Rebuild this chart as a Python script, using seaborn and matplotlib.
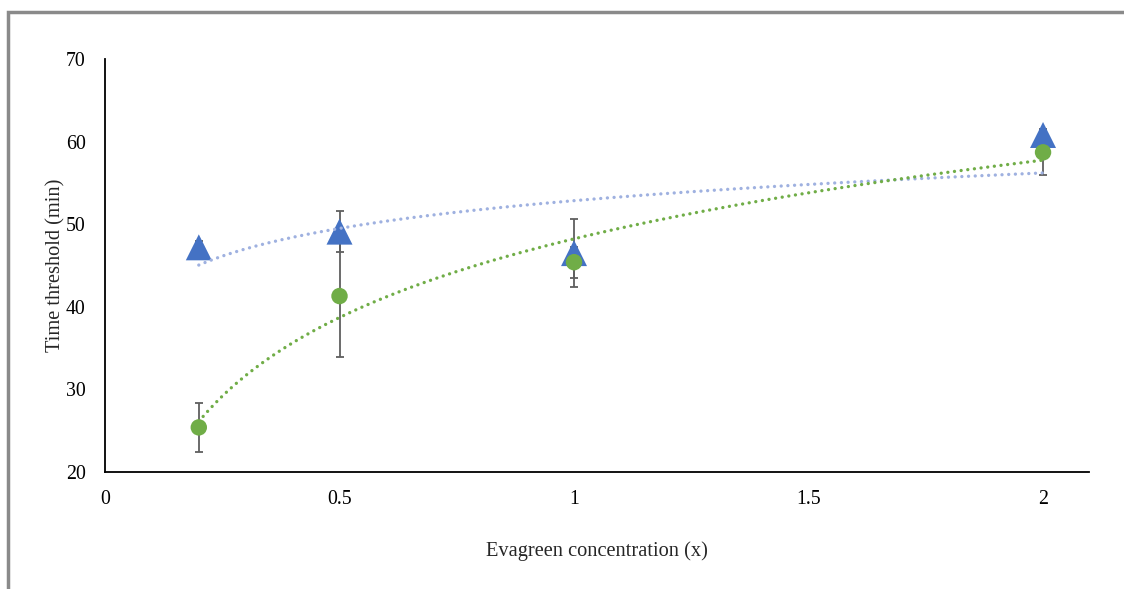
import numpy as np
import pandas as pd
import matplotlib
matplotlib.use("Agg")
import matplotlib.pyplot as plt
import matplotlib.patches as mpatches
import seaborn as sns

# Data
conc = [0.2, 0.5, 1.0, 2.0]
tri_vals = [47.2, 49.1, 46.5, 60.8]
tri_err = [0.8, 2.5, 4.1, 0.7]
circ_vals = [25.4, 41.3, 45.4, 58.7]
circ_err = [3.0, 7.4, 1.9, 2.7]
xticks = [0, 0.5, 1, 1.5, 2]
xtick_labels = ["0", "0.5", "1", "1.5", "2"]
yticks = [20, 30, 40, 50, 60, 70]

sns.set_style("white")
plt.rcParams['font.family'] = ['Liberation Serif', 'DejaVu Serif']

fig = plt.figure(figsize=(11.24, 5.89), dpi=100)
ax = fig.add_axes([105/1124, 1-472/589, (1089-105)/1124, (472-59)/589])

df_tri = pd.DataFrame({"x": conc, "y": tri_vals})
df_circ = pd.DataFrame({"x": conc, "y": circ_vals})

# error bars
ax.errorbar(conc, tri_vals, yerr=tri_err, fmt='none', ecolor='#5f5f5f',
            elinewidth=1.3, capsize=3.2, capthick=1.3, zorder=1)
ax.errorbar(conc, circ_vals, yerr=circ_err, fmt='none', ecolor='#5f5f5f',
            elinewidth=1.3, capsize=3.2, capthick=1.3, zorder=1)

# markers
sns.scatterplot(data=df_tri, x="x", y="y", marker='^', s=350, color='#4472C4',
                edgecolor='none', ax=ax, zorder=3)
sns.scatterplot(data=df_circ, x="x", y="y", marker='o', s=140, color='#70AD47',
                edgecolor='none', ax=ax, zorder=4)

# logarithmic trendlines (fitted to the series)
xs = np.linspace(min(conc), max(conc), 300)
for vals, col in [(tri_vals, '#9FB1E0'), (circ_vals, '#70AD47')]:
    a, b = np.polyfit(np.log(conc), vals, 1)
    tl = pd.DataFrame({"x": xs, "y": a*np.log(xs) + b})
    sns.lineplot(data=tl, x="x", y="y", ax=ax, color=col, lw=2.4,
                 linestyle=(0, (0.01, 2.0)), dash_capstyle='round', zorder=5)

ax.set_xlim(0, 2.098)
ax.set_ylim(20, 70)
ax.set_xticks(xticks)
ax.set_xticklabels(xtick_labels)
ax.set_yticks(yticks)
ax.tick_params(axis='both', length=0, labelsize=14.3, colors='black')
ax.tick_params(axis='x', pad=13)
ax.tick_params(axis='y', pad=14)
for s in ['top', 'right']:
    ax.spines[s].set_visible(False)
for s in ['left', 'bottom']:
    ax.spines[s].set_color('black')
    ax.spines[s].set_linewidth(1.3)

ax.set_xlabel("Evagreen concentration (x)", fontsize=14.7, labelpad=23.5)
ax.set_ylabel("Time threshold (min)", fontsize=14.7, labelpad=0)

# outer border (partially cropped, as in the reference)
rect = mpatches.Rectangle((8/1124, -0.1), 1.2, 1 - 12/589 + 0.1,
                          transform=fig.transFigure, fill=False,
                          edgecolor='#8a8a8a', lw=2.5, clip_on=False)
fig.patches.append(rect)

fig.savefig("out.png", dpi=100)
